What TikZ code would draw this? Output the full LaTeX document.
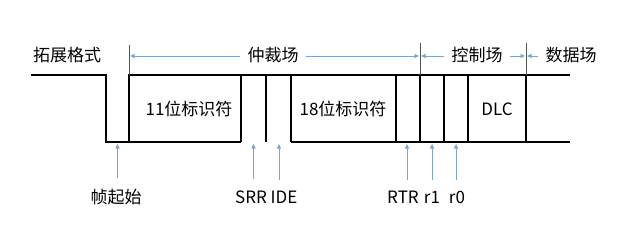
\documentclass[tikz,border=0pt]{standalone}
\usepackage{fontspec}
\setmainfont{Noto Sans CJK SC}
\usetikzlibrary{arrows.meta}
\definecolor{arrowblue}{HTML}{7FA6C8}
\definecolor{markgray}{HTML}{555555}
\begin{document}
\begin{tikzpicture}[x=1pt,y=-1pt,
  sig/.style={line width=1.7pt, black},
  markline/.style={line width=1pt, markgray},
  barrow/.style={line width=0.8pt, arrowblue, -{Triangle[length=4.5pt,width=4pt]}},
  lbl/.style={font=\fontsize{17}{20}\selectfont, inner sep=2pt, text=black}]
\useasboundingbox[fill=white] (0,0) rectangle (640,228);
% waveform
\draw[sig] (31,75) -- (106,75) -- (106,142) -- (241,142);
\draw[sig] (129,142) -- (129,75) -- (570,75);
\draw[sig] (291,142) -- (570,142);
\foreach \x in {241,266,291,396,420,444,468,526}
  \draw[sig] (\x,75) -- (\x,142);
% field markers
\draw[markline] (129,45) -- (129,75);
\draw[markline] (420,43) -- (420,75);
\draw[markline] (526,43) -- (526,75);
\coordinate (m1) at (130,56);
\coordinate (m2l) at (419,56);
\coordinate (m2r) at (421,56);
\coordinate (m3l) at (525,56);
\coordinate (m3r) at (527,56);
% top labels
\node[lbl] (ext) at (67,55) {拓展格式};
\node[lbl, inner sep=7pt] (arb) at (273,55) {仲裁场};
\node[lbl, inner sep=7pt] (ctl) at (477,55) {控制场};
\node[lbl, inner sep=7pt] (dat) at (571,55) {数据场};
\draw[barrow] (arb.west |- m1) -- (m1);
\draw[barrow] (arb.east |- m1) -- (m2l);
\draw[barrow] (ctl.west |- m1) -- (m2r);
\draw[barrow] (ctl.east |- m1) -- (m3l);
\draw[barrow] (dat.west |- m1) -- (m3r);
% field texts
\node[lbl] (id11) at (189,109) {11位标识符};
\node[lbl] (id18) at (343,109) {18位标识符};
\node[lbl] (dlc) at (497,109) {DLC};
% bottom labels
\node[lbl] (sof) at (116,197) {帧起始};
\node[lbl] (srr) at (251,197) {SRR};
\node[lbl] (ide) at (284,197) {IDE};
\node[lbl] (rtr) at (403,197) {RTR};
\node[lbl] (r1) at (432,197) {r1};
\node[lbl] (r0) at (457,197) {r0};
\coordinate (t1) at (117.5,144);
\coordinate (t2) at (253.5,144);
\coordinate (t3) at (279,144);
\coordinate (t4) at (407,144);
\coordinate (t5) at (432,144);
\coordinate (t6) at (456,144);
\foreach \l/\t in {sof/t1,srr/t2,ide/t3,rtr/t4,r1/t5,r0/t6}
  \draw[barrow, shorten <=9pt] (\t |- \l.north) -- (\t);
\end{tikzpicture}
\end{document}
